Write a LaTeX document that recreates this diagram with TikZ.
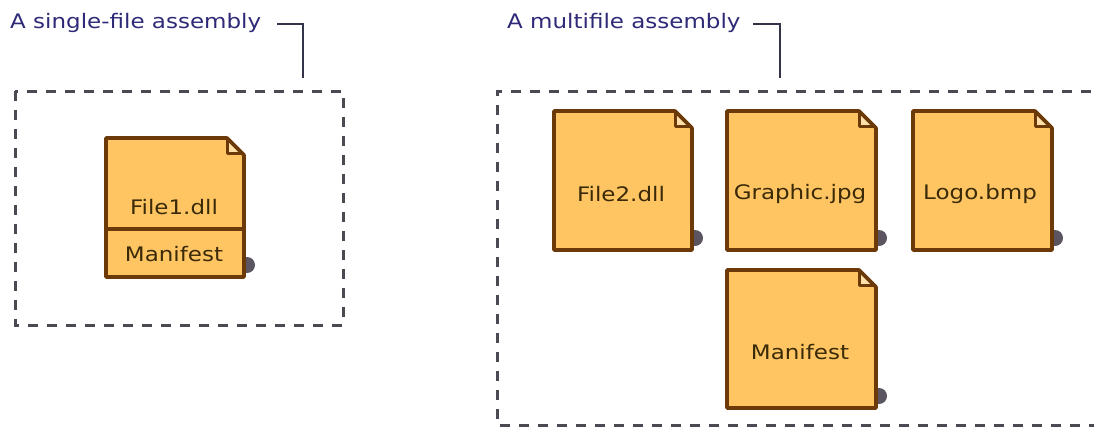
\documentclass[tikz,border=0pt]{standalone}
\usepackage{fontspec}
\setmainfont{DejaVu Sans}
\newfontfamily\widefont[FakeStretch=1.15]{DejaVu Sans}
\definecolor{notefill}{HTML}{FFC562}
\definecolor{noteline}{HTML}{6B3A08}
\definecolor{foldfill}{HTML}{FFE0A8}
\definecolor{shadowc}{HTML}{5A5560}
\definecolor{labelc}{HTML}{2E2A78}
\definecolor{leaderc}{HTML}{33334A}
\definecolor{dashc}{HTML}{4A4A52}
\definecolor{textc}{HTML}{3A2A08}
\tikzset{
  x=1pt,y=-1pt,
  notetext/.style={font=\widefont\fontsize{20}{24}\selectfont,text=textc,inner sep=0pt,anchor=center},
  heading/.style={font=\widefont\fontsize{20}{24}\selectfont,text=labelc,inner sep=0pt,anchor=west},
  outline/.style={draw=noteline,line width=3.6pt,line join=round},
  regionbox/.style={draw=dashc,line width=3pt,dash pattern=on 10pt off 9pt},
  leader/.style={draw=leaderc,line width=2.2pt},
}
% #1 left, #2 top, #3 right, #4 bottom
\newcommand{\notesheet}[4]{%
  \fill[shadowc] (#3+3,#4-12) circle[radius=8];
  \fill[notefill] (#1,#2) -- (#3-17,#2) -- (#3,#2+19) -- (#3,#4) -- (#1,#4) -- cycle;
  \fill[foldfill] (#3-17,#2) -- (#3-17,#2+15) -- (#3,#2+15) -- cycle;
  \draw[outline,line width=3pt] (#3-17,#2) -- (#3-17,#2+15) -- (#3-1,#2+15);
  \draw[outline] (#1,#2) -- (#3-17,#2) -- (#3,#2+17) -- (#3,#4) -- (#1,#4) -- cycle;
}
\begin{document}
\begin{tikzpicture}
\useasboundingbox (0,0) rectangle (1094,428);
\fill[white] (0,0) rectangle (1094,428);
% dashed regions
\draw[regionbox] (15,91) rectangle (343,325);
\draw[regionbox] (1110,91) -- (497,91) -- (497,425) -- (1110,425);
\coordinate (leftstart) at (277,24);
\coordinate (rightstart) at (753,24);
\coordinate (leftelbow) at (303,24);
\coordinate (rightelbow) at (780,24);
\coordinate (leftfoot) at (303,78);
\coordinate (rightfoot) at (780,78);
% headings
\node[heading] (hleft) at (10,23) {A single-file assembly};
\node[heading] (hright) at (507,23) {A multifile assembly};
\draw[leader] (leftstart) -- (leftelbow) -- (leftfoot);
\draw[leader] (rightstart) -- (rightelbow) -- (rightfoot);
% notes
\notesheet{106}{138}{244}{277}
\draw[outline] (106,229) -- (244,229);
\node[notetext] (n1) at (174,207) {File1.dll};
\node[notetext] (n2) at (174,254) {Manifest};
\notesheet{554}{111}{692}{250}
\node[notetext] (n3) at (621,194) {File2.dll};
\notesheet{727}{111}{876}{250}
\node[notetext] (n4) at (800,194) {Graphic.jpg};
\notesheet{913}{111}{1052}{250}
\node[notetext] (n5) at (980,194) {Logo.bmp};
\notesheet{727}{270}{876}{408}
\node[notetext] (n6) at (800,352) {Manifest};
\end{tikzpicture}
\end{document}
